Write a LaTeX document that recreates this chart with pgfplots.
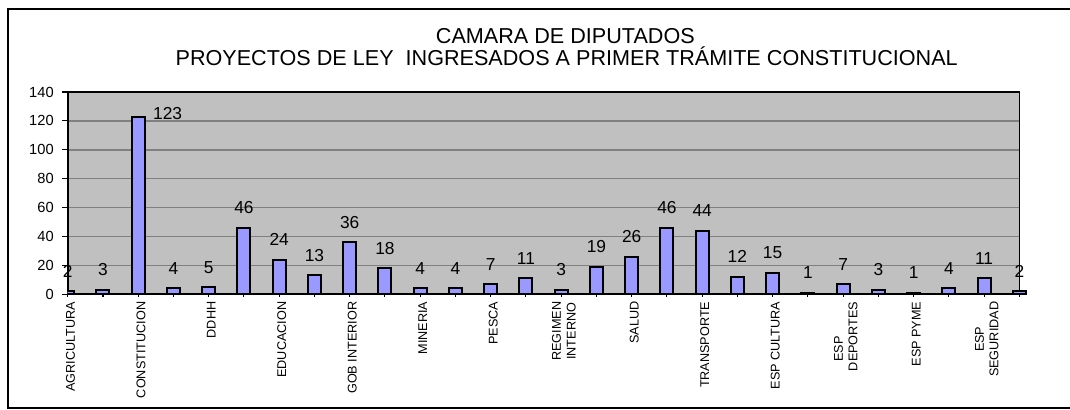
\documentclass[border=0pt]{standalone}
\usepackage{pgfplots}
\pgfplotsset{compat=1.18}
\usepackage{fontspec}
\setmainfont{Liberation Sans}
\definecolor{bargrey}{HTML}{C0C0C0}
\definecolor{gridgrey}{HTML}{808080}
\definecolor{barblue}{HTML}{9999FF}
\begin{document}
\begin{tikzpicture}
\useasboundingbox (0,0) rectangle (802.5pt,307.5pt);
\draw[line width=1.5pt] (6pt,1.5pt) rectangle (812pt,300.4pt);
\node[anchor=base,font=\fontsize{16.2}{18}\selectfont,inner sep=0pt] at (424pt,274.5pt) {CAMARA DE DIPUTADOS};
\node[anchor=base,font=\fontsize{16.2}{18}\selectfont,inner sep=0pt] at (425pt,258pt) {PROYECTOS DE LEY\ \ INGRESADOS A PRIMER TRÁMITE CONSTITUCIONAL};
\pgfplotsset{
  base/.style={
    at={(50.8pt,86.8pt)}, anchor=south west,
    width=713.7pt, height=151.7pt, scale only axis,
    xmin=0, xmax=27, ymin=0, ymax=140,
    ybar, bar width=9.75pt, bar shift=0pt,
    /pgf/number format/assume math mode=true,
  }
}
\begin{axis}[base,
  axis background/.style={fill=bargrey},
  axis line style={black,line width=1.2pt},
  ymajorgrids, grid style={gridgrey,line width=1.2pt},
  ytick={0,20,...,140},
  yticklabel style={font=\fontsize{11}{13}\selectfont,xshift=-3pt},
  ytick align=outside, ytick pos=left,
  major tick length=4pt,
  xtick={0,...,27},
  xtick align=center, xtick pos=bottom,
  xticklabels={AGRICULTURA,,CONSTITUCION,,DDHH,,EDUCACION,,GOB INTERIOR,,MINERIA,,PESCA,,{REGIMEN\\INTERNO},,SALUD,,TRANSPORTE,,ESP CULTURA,,{ESP\hspace*{2em}\\DEPORTES},,ESP PYME,,{ESP\\SEGURIDAD},},
  xticklabel style={rotate=90,anchor=east,align=center,font=\fontsize{9.5}{11}\selectfont,yshift=-2pt},
  tick style={black,line width=0.8pt},
  nodes near coords,
  every node near coord/.append style={font=\fontsize{13}{15}\selectfont,anchor=base,inner sep=0pt,yshift=10.5pt},
]
\addplot[fill=barblue,draw=black,line width=1.5pt] coordinates {
(0,2) (1,3) (3,4) (4,5) (5,46) (6,24) (7,13) (8,36) (9,18) (10,4) (11,4) (12,7) (13,11) (14,3) (15,19) (16,26) (17,46) (18,44) (19,12) (20,15) (21,1) (22,7) (23,3) (24,1) (25,4) (26,11)
};
\addplot[fill=barblue,draw=black,line width=1.5pt,nodes near coords=] coordinates {(2,123)};
\node[anchor=base west,font=\fontsize{13}{15}\selectfont,inner sep=0pt] at (axis cs:2,123) [xshift=11pt,yshift=-2pt] {123};
\end{axis}
\begin{axis}[base, axis lines=none, clip=false,
  nodes near coords,
  every node near coord/.append style={font=\fontsize{13}{15}\selectfont,anchor=base,inner sep=0pt,yshift=10.5pt},
]
\addplot[fill=barblue,draw=black,line width=1.5pt] coordinates {(27,2)};
\end{axis}
\end{tikzpicture}
\end{document}
